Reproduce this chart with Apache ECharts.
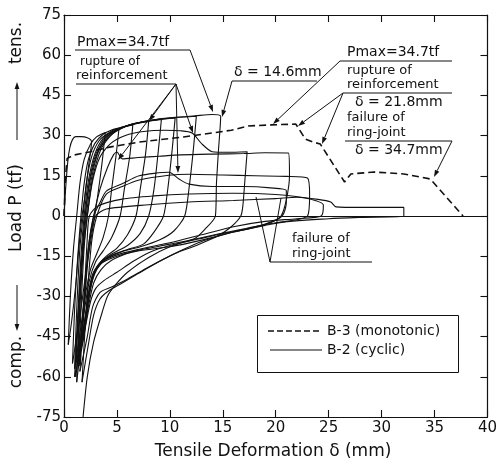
<!DOCTYPE html>
<html>
<head>
<meta charset="utf-8">
<script src="https://cdn.jsdelivr.net/npm/echarts@6/dist/echarts.min.js"></script>
<style>
  html, body { margin: 0; padding: 0; background: #fff; }
  #chart { width: 500px; height: 465px; }
</style>
</head>
<body>
<div id="chart"></div>
<script>
// axis ticks
const xTicks = [0, 5, 10, 15, 20, 25, 30, 35, 40];
const yTicks = [-75, -60, -45, -30, -15, 0, 15, 30, 45, 60, 75];

// B-3 monotonic test  [deformation mm, load tf]
const monotonic = [[0,0],[0.15,15],[0.3,21.5],[1,22.8],[2.5,24],[4.3,25.7],[7.1,27.6],[11.3,29.5],[15.8,32],
  [17.4,33.6],[19.6,34],[21.9,34.3],[22.8,28.7],[23.5,27.6],[24.2,26.9],[26.5,12.7],[27.1,15.7],[29.3,16.4],
  [32.1,15.7],[34.6,13.8],[37.7,0]];

// B-2 cyclic test, one array per loop (reload -> peak -> unload -> compression)
const loop0 = [[0,0],[0.15,10],[0.35,20],[0.55,25.5],[0.8,28.5],[1.1,29.6],[1.6,29.6],[2.2,29.2],[2.6,27.8],[2.3,18],[2.0,8],[1.7,0],[1.4,-12],[1.1,-26],[0.7,-40],[0.4,-48]];
const loop1 = [[0.4,-48],[0.6,-30],[0.9,-12],[1.2,0],[1.5,12],[1.9,21],[2.5,26.8],[3.1,29.6],[3.9,31.2],[3.6,20],[3.2,8],[2.9,0],[2.5,-10],[2.1,-20],[1.7,-32],[1.2,-45],[0.8,-55]];
const loop2 = [[0.8,-55],[1.0,-35],[1.3,-15],[1.6,0],[1.9,12],[2.3,21],[2.9,27],[3.7,30.5],[4.5,32.1],[5.2,32.8],[4.9,22],[4.5,10],[4.2,0],[3.7,-8],[3.1,-14],[2.5,-20],[2.0,-30],[1.5,-44],[1.0,-57]];
const loop3 = [[1.0,-57],[1.2,-35],[1.5,-12],[1.8,0],[2.1,12],[2.6,22],[3.3,28],[4.2,31],[5.2,32.8],[6.5,34],[6.2,22],[5.7,10],[5.3,0],[4.5,-8],[3.7,-13],[3.0,-17],[2.4,-24],[1.9,-36],[1.4,-50],[1.1,-60]];
const loop4 = [[1.1,-60],[1.3,-38],[1.6,-15],[1.9,0],[2.3,13],[2.9,23],[3.7,29],[4.8,32],[6.3,34],[8.0,35.3],[7.7,23],[7.2,10],[6.8,0],[6.0,-7],[5.0,-12],[4.0,-15],[3.1,-19],[2.5,-26],[2.0,-38],[1.5,-52],[1.2,-62]];
const loop5 = [[1.2,-62],[1.4,-40],[1.7,-16],[2.0,0],[2.4,13],[3.0,23],[3.9,29.2],[5.2,32.5],[7.0,34.7],[9.2,36],[8.9,24],[8.5,10],[8.0,0],[7.2,-6.5],[6.0,-11],[4.6,-14],[3.5,-17],[2.8,-22],[2.3,-32],[1.8,-46],[1.0,-60]];
const loop6 = [[1.0,-60],[1.3,-38],[1.7,-14],[2.0,0],[2.5,14],[3.2,24],[4.2,30],[5.8,33.5],[8.0,35.5],[10.5,36.6],[10.2,24],[9.8,10],[9.4,0],[8.5,-6],[7.5,-10.5],[6.0,-12.5],[4.6,-14.5],[3.6,-17],[2.9,-21],[2.4,-28],[1.9,-42],[1.3,-56]];
const loop7 = [[1.3,-56],[1.5,-35],[1.8,-12],[2.1,0],[2.6,14],[3.3,24.5],[4.4,30.3],[6.0,33.8],[8.3,35.7],[10.5,36.7],[12.5,37.2],[12.2,24],[11.8,10],[11.4,0],[10.4,-5.5],[9,-9],[7.2,-11.5],[5.3,-13.5],[4,-16],[3.1,-20],[2.5,-27],[2.0,-40],[1.4,-54]];
const loop8 = [[1.4,-54],[1.6,-35],[1.9,-12],[2.2,0],[2.7,14],[3.5,25],[4.6,30.7],[6.3,34.1],[8.5,35.9],[10.5,36.8],[12.4,37.4],[14.0,37.9],[14.8,37.2],[14.6,25],[14.4,12],[14.3,0],[13.3,-5],[12.3,-8.5],[10,-10.5],[8,-12],[6.3,-13.5],[4.5,-16.5],[3.5,-20],[2.8,-25],[2.3,-34],[1.8,-46],[1.1,-55]];
const loop9 = [[1.1,-55],[1.4,-35],[1.8,-14],[2.2,0],[2.7,13],[3.4,22],[4.4,27],[5.8,30],[7.5,31.5],[9.5,32],[11,31.8],[12.1,31],[13,27],[14,24],[15.5,23.8],[17.3,24],[17.1,14],[16.9,4],[16.7,0],[15.8,-4],[14.5,-7.5],[12.5,-11],[10.5,-14],[8,-19],[6,-23.5],[4.5,-26.5],[3.4,-28.5],[2.7,-34],[2.2,-45],[1.5,-58]];
const loop10 = [[1.5,-58],[1.9,-35],[2.3,-12],[2.8,0],[3.4,10],[4.1,18],[4.7,23],[5.0,23.9],[5.5,21.3],[7,21.8],[9,22.3],[11,22.8],[14,23.1],[17,23.3],[19,23.6],[21.2,23.5],[21.3,15],[21,6],[20.5,0],[19.5,-2.5],[17.4,-4.8],[15,-6.5],[12.7,-8.6],[10,-11],[8.1,-13.5],[6.5,-17],[5,-21],[3.8,-24],[3,-27],[2.5,-32],[2.0,-42],[1.4,-56]];
const loop11 = [[1.4,-56],[1.8,-35],[2.3,-12],[2.8,0],[3.4,5],[4,9.3],[5.5,12],[7.1,15],[9.9,16.3],[10.9,13.7],[11.8,11.9],[14,11],[17,11],[19.5,10.5],[21,9.5],[21,5],[20.6,0],[19,-3],[16,-6],[13,-9.5],[11,-13],[9,-17],[7,-21.5],[5.5,-25],[4.2,-28],[3.4,-31],[2.8,-37],[2.3,-48],[1.7,-62]];
const loop12 = [[1.7,-62],[2.1,-35],[2.6,-10],[3.1,0],[4,8.2],[5.5,11],[7.1,13.4],[9.9,15.2],[11.8,15.6],[15,15.3],[18,15],[21,14.8],[23,14.2],[23.2,8],[23,0],[21,-2],[19,-3.5],[16,-6],[13,-9],[10,-11.5],[7,-13],[5,-15],[3.6,-17.5],[2.8,-21],[2.4,-27],[2.0,-38],[1.5,-52]];
const loop13 = [[1.5,-52],[1.9,-30],[2.2,-8],[2.4,0],[3.2,3.7],[5.5,6.3],[8.5,7.5],[11.8,8.2],[16,8.5],[20,8],[23,6.5],[24.5,4],[24.3,0],[22,-1],[19,-2],[16,-4],[13,-7],[10,-10],[7,-12.5],[5,-14.5],[3.6,-17],[2.8,-21],[2.4,-27],[2.0,-38],[1.6,-50]];
const loop14 = [[1.6,-50],[2.0,-28],[2.5,-8],[3,0],[4,2.6],[8,4.2],[11.8,5.2],[16,5.8],[20,6.5],[22,7],[24,6.2],[25.2,5.2],[25.7,3.4],[28,3.2],[32.1,3.2],[32.1,0],[28,-0.5],[25,-1],[20,-2.5],[15.5,-6],[12,-9],[10,-11.5],[8,-15.5],[6,-21],[4.8,-26],[4.1,-30],[3.6,-36],[2.8,-47],[2.2,-60],[1.8,-75]];
const cyclicLoops = [loop0, loop1, loop2, loop3, loop4, loop5, loop6, loop7, loop8, loop9, loop10, loop11, loop12, loop13, loop14];

const INK = '#111';
const FONT = 'DejaVu Sans';

function arrow(x1, y1, x2, y2) {
  const a = Math.atan2(y2 - y1, x2 - x1), L = 7, W = 2.4;
  const bx = x2 - L * Math.cos(a), by = y2 - L * Math.sin(a);
  return [
    {type: 'line', shape: {x1: x1, y1: y1, x2: bx, y2: by}, style: {stroke: INK, lineWidth: 1}},
    {type: 'polygon', shape: {points: [[x2, y2], [bx + W * Math.sin(a), by - W * Math.cos(a)], [bx - W * Math.sin(a), by + W * Math.cos(a)]]}, style: {fill: INK}}
  ];
}
function seg(x1, y1, x2, y2, dash) {
  return {type: 'line', shape: {x1: x1, y1: y1, x2: x2, y2: y2},
    style: {stroke: INK, lineWidth: dash ? 1.5 : 1, lineDash: dash || null}};
}
function txt(s, x, y, size, align, rot) {
  return {type: 'text', x: x, y: y, rotation: rot || 0,
    style: {text: s, fontSize: size, fontFamily: FONT, fill: INK,
      align: align, textAlign: align, verticalAlign: 'middle', textVerticalAlign: 'middle'}};
}

const notes = [].concat(
  // left annotations
  txt('Pmax=34.7tf', 77, 42, 14, 'left'), seg(75, 50, 190, 50), arrow(190, 50, 213, 112),
  txt('rupture of', 80, 62, 12, 'left'), txt('reinforcement', 76, 76, 13, 'left'), seg(76, 84, 176, 84),
  arrow(176, 84, 149, 121), arrow(176, 84, 118, 160), arrow(176, 84, 178, 173), arrow(176, 84, 193, 133),
  txt('δ = 14.6mm', 234, 72, 14, 'left'), seg(232, 81, 317, 81), arrow(232, 81, 222, 117),
  // right annotations
  txt('Pmax=34.7tf', 347, 52, 14, 'left'), seg(340, 61, 452, 61), arrow(340, 61, 273, 124),
  txt('rupture of', 347, 71, 13, 'left'), txt('reinforcement', 347, 85, 13, 'left'), seg(343, 93, 452, 93),
  arrow(343, 93, 298, 126), arrow(343, 93, 322, 144),
  txt('δ = 21.8mm', 355, 102, 14, 'left'),
  txt('failure of', 347, 118, 13, 'left'), txt('ring-joint', 347, 133, 13, 'left'), seg(345, 141, 452, 141),
  arrow(452, 141, 434, 177),
  txt('δ = 34.7mm', 355, 150, 14, 'left'),
  // lower annotation
  txt('failure of', 292, 239, 13, 'left'), txt('ring-joint', 292, 254, 13, 'left'), seg(270, 262, 372, 262),
  seg(270, 262, 256, 197), seg(270, 262, 281, 198),
  // legend box
  {type: 'rect', shape: {x: 257.5, y: 315.5, width: 201, height: 57}, style: {fill: '#fff', stroke: INK, lineWidth: 1}},
  seg(268, 331, 322, 331, [6, 3]), txt('B-3 (monotonic)', 327, 331, 14, 'left'),
  seg(270, 350, 322, 350), txt('B-2 (cyclic)', 327, 350, 14, 'left'),
  // axis titles
  txt('Tensile Deformation δ (mm)', 273, 452, 17, 'center'),
  txt('tens.', 17, 43, 17, 'center', Math.PI / 2), arrow(17, 140, 17, 82),
  txt('Load P (tf)', 17, 208, 17, 'center', Math.PI / 2), arrow(17, 285, 17, 331),
  txt('comp.', 17, 362, 17, 'center', Math.PI / 2)
);

const series = [{
  name: 'B-3 (monotonic)', type: 'line', data: monotonic, showSymbol: false, symbol: 'none',
  lineStyle: {color: INK, width: 1.6, type: [7, 4]}, itemStyle: {color: INK},
  z: 3,
  markLine: {silent: true, symbol: 'none', label: {show: false},
    lineStyle: {color: INK, width: 1, type: 'solid'}, data: [{yAxis: 0}]}
}];
cyclicLoops.forEach(function (loop) {
  series.push({
    name: 'B-2 (cyclic)', type: 'line', data: loop, showSymbol: false, symbol: 'none',
    smooth: 0.25, lineStyle: {color: INK, width: 1.1}, itemStyle: {color: INK}
  });
});

const axisBase = {
  type: 'value', splitLine: {show: false},
  axisLine: {show: true, onZero: false, lineStyle: {color: INK, width: 1.2}},
  axisTick: {show: true, inside: true, length: 7, lineStyle: {color: INK, width: 1.1}}
};

const chart = echarts.init(document.getElementById('chart'), null, {renderer: 'canvas'});
chart.setOption({
  animation: false,
  backgroundColor: '#fff',
  grid: {left: 64, right: 9, top: 15, bottom: 48},
  xAxis: [
    Object.assign({}, axisBase, {min: xTicks[0], max: xTicks[xTicks.length - 1], interval: 5,
      axisLabel: {fontSize: 15, fontFamily: FONT, color: INK, margin: 4}}),
    Object.assign({}, axisBase, {position: 'top', min: xTicks[0], max: xTicks[xTicks.length - 1], interval: 5,
      axisLabel: {show: false}})
  ],
  yAxis: [
    Object.assign({}, axisBase, {min: yTicks[0], max: yTicks[yTicks.length - 1], interval: 15,
      axisLabel: {fontSize: 15, fontFamily: FONT, color: INK, margin: 3}}),
    Object.assign({}, axisBase, {position: 'right', min: yTicks[0], max: yTicks[yTicks.length - 1], interval: 15,
      axisLabel: {show: false}})
  ],
  series: series,
  graphic: notes
});
</script>
</body>
</html>
